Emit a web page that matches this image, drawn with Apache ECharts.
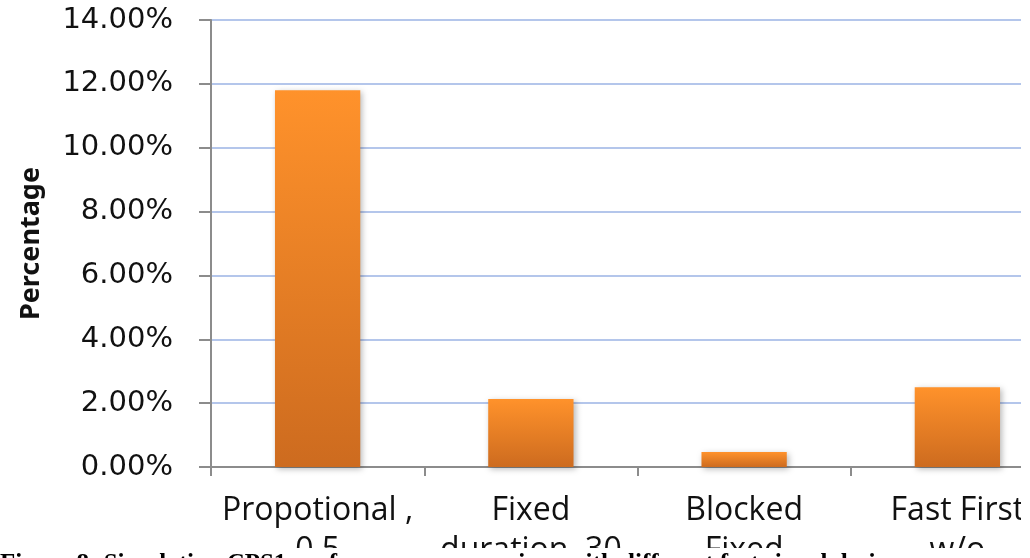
<!DOCTYPE html>
<html>
<head>
<meta charset="utf-8">
<script src="https://cdn.jsdelivr.net/npm/echarts@6/dist/echarts.min.js"></script>
<style>
  html, body { margin: 0; padding: 0; background: #fff; }
  #chart { width: 1030px; height: 558px; }
</style>
</head>
<body>
<div id="chart"></div>
<script>
// Fast-signal design variants and their share (in percent)
const categories = ['Propotional ,\n0.5', 'Fixed\nduration, 30', 'Blocked\nFixed', 'Fast First\nw/o'];
const percentages = [11.8, 2.13, 0.47, 2.5];
const yTicks = { min: 0, max: 14, interval: 2 };
const captionText = 'Figure 8: Simulation CPS1 performance comparison with different fast signal design';

const chart = echarts.init(document.getElementById('chart'), null, { renderer: 'canvas' });

const barFill = new echarts.graphic.LinearGradient(0, 0, 0, 1, [
  { offset: 0, color: '#FF922B' },
  { offset: 1, color: '#CD6B1F' }
]);

chart.setOption({
  animation: false,
  backgroundColor: '#ffffff',
  grid: {
    left: 211,
    top: 20,
    bottom: 91,
    right: -34,
    outerBoundsMode: 'none',
    containLabel: false
  },
  xAxis: {
    type: 'category',
    data: categories,
    axisLine: { lineStyle: { color: '#8c8c8c', width: 2 } },
    axisTick: { show: true, length: 9, lineStyle: { color: '#8c8c8c', width: 2 } },
    axisLabel: {
      interval: 0,
      margin: 24,
      color: '#111',
      fontFamily: 'Open Sans',
      fontSize: 32,
      lineHeight: 40
    },
    splitLine: { show: false }
  },
  yAxis: {
    type: 'value',
    min: yTicks.min,
    max: yTicks.max,
    interval: yTicks.interval,
    name: 'Percentage',
    nameLocation: 'middle',
    nameRotate: 90,
    nameGap: 166,
    nameTextStyle: {
      fontFamily: 'Noto Sans',
      fontWeight: 'bold',
      fontSize: 27,
      color: '#111'
    },
    axisLine: { show: true, lineStyle: { color: '#8c8c8c', width: 2 } },
    axisTick: { show: true, length: 12, lineStyle: { color: '#8c8c8c', width: 2 } },
    axisLabel: {
      margin: 38,
      color: '#111',
      fontFamily: 'DejaVu Sans',
      fontSize: 29,
      formatter: v => v.toFixed(2) + '%'
    },
    splitLine: { show: true, lineStyle: { color: '#B4C6EB', width: 2 } }
  },
  series: [{
    type: 'bar',
    data: percentages,
    barWidth: '40%',
    itemStyle: {
      color: barFill,
      shadowBlur: 6,
      shadowColor: 'rgba(0,0,0,0.28)',
      shadowOffsetX: 2,
      shadowOffsetY: 2
    }
  }],
  graphic: [
    // plot area stops at the right edge strip
    { type: 'rect', z: 100, shape: { x: 1021, y: 0, width: 9, height: 558 }, style: { fill: '#ffffff' } },
    // caption strip along the bottom
    { type: 'rect', z: 100, shape: { x: 0, y: 548, width: 1030, height: 10 }, style: { fill: '#ffffff' } },
    {
      type: 'text', z: 101, left: 0, top: 552,
      style: {
        text: captionText,
        fill: '#000',
        font: 'bold 25px "Liberation Serif"'
      }
    }
  ]
});
</script>
</body>
</html>
